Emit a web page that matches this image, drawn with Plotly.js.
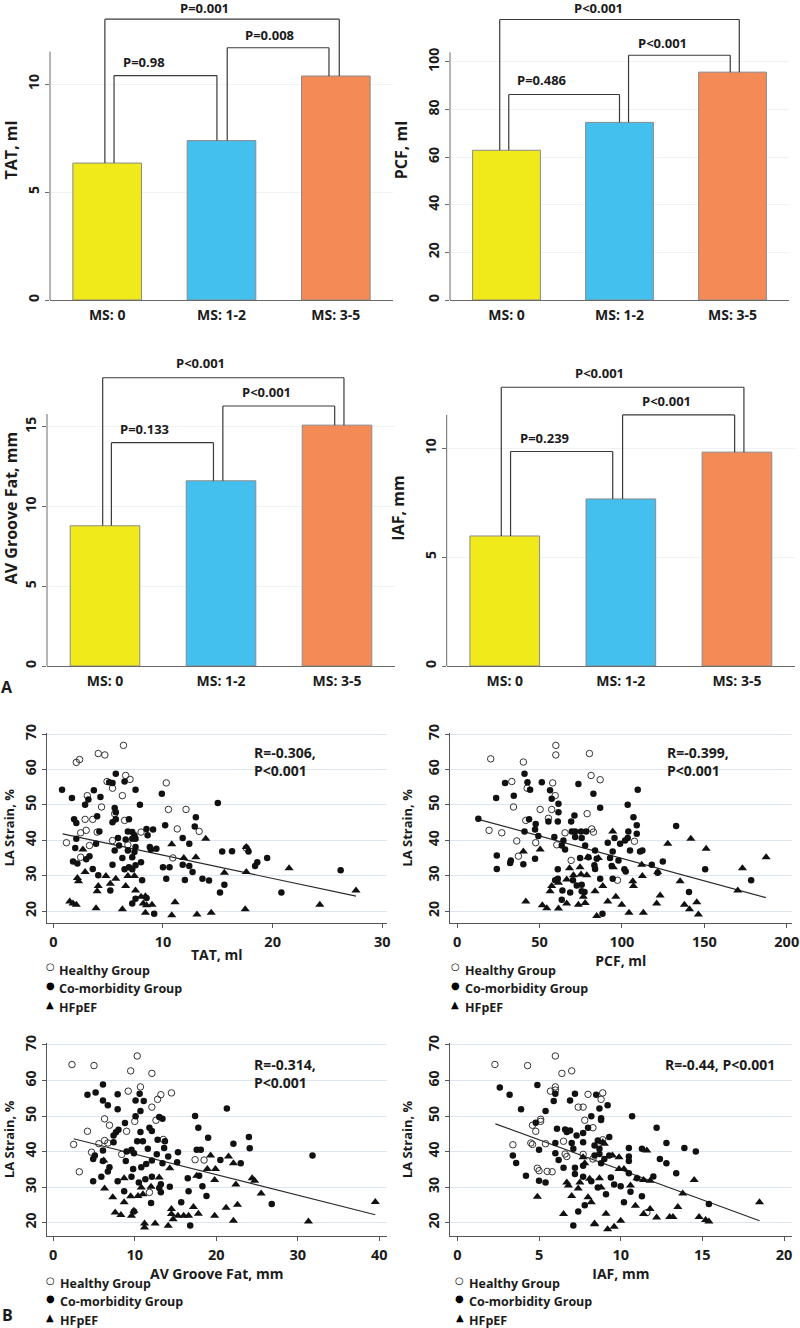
<!DOCTYPE html>
<html>
<head>
<meta charset="utf-8">
<script src="https://cdn.plot.ly/plotly-3.0.1.min.js"></script>
<style>html,body{margin:0;padding:0;background:#fff}#chart{width:800px;height:1328px}</style>
</head>
<body>
<div id="chart"></div>
<script>
// ---------------- DATA ----------------
const msCategories = ['MS: 0', 'MS: 1-2', 'MS: 3-5'];
const barColors = ['#F1EA1B', '#43C0EE', '#F48A56'];

const tatMeans = [6.34, 7.38, 10.37];
const pcfMeans = [62.9, 74.6, 95.7];
const avgMeans = [8.79, 11.61, 15.1];
const iafMeans = [5.97, 7.67, 9.82];

const comparePairs = [[0, 1], [1, 2], [0, 2]];
const tatPvals = ['P=0.98', 'P=0.008', 'P=0.001'];
const pcfPvals = ['P=0.486', 'P<0.001', 'P<0.001'];
const avgPvals = ['P=0.133', 'P<0.001', 'P<0.001'];
const iafPvals = ['P=0.239', 'P<0.001', 'P<0.001'];

const groupNames = ['Healthy Group', 'Co-morbidity Group', 'HFpEF'];

// TAT vs LA strain
const tatHealthyX = [6.4,2.1,2.4,4.1,4.7,6.6,7.0,4.9,5.4,6.3,10.3,3.1,4.4,10.5,12.1,2.9,3.6,5.6,6.5,11.3,13.3,2.5,3.0,4.0,1.2,3.3,5.4,8.0,6.8,2.5,10.9,17.6];
const tatHealthyY = [66.8,62.0,62.8,64.5,64.1,58.3,57.2,56.6,54.7,52.6,56.2,52.6,49.4,48.7,48.7,45.9,45.9,47.5,45.6,43.2,42.5,42.1,42.8,42.3,39.3,38.5,39.9,42.3,38.7,35.2,35.0,37.8];
const tatComorbX = [0.8,1.7,5.7,5.1,5.4,6.5,7.5,3.7,3.2,4.3,9.9,7.9,2.9,15.0,1.9,2.1,4.0,5.6,5.7,5.7,6.9,5.4,13.0,10.2,12.9,4.2,5.9,6.8,7.2,7.4,8.5,9.1,8.6,7.2,7.5,6.6,11.8,2.1,3.9,6.0,7.5,8.8,12.4,5.6,6.8,7.4,8.9,9.4,15.4,16.3,17.8,2.0,3.3,6.3,7.2,1.8,2.2,3.0,8.0,5.4,6.9,7.5,10.0,10.6,11.8,12.4,12.7,3.6,6.5,7.2,10.3,12.0,8.1,13.6,14.2,4.1,5.2,15.6,15.2,18.4,18.6,19.5,26.2,20.8,9.2,7.5,7.2,8.5];
const tatComorbY = [54.3,51.9,58.8,56.4,56.2,56.6,54.3,54.1,51.5,52.2,53.1,50.0,50.0,50.5,45.9,44.9,46.8,49.1,47.9,45.9,45.9,45.1,46.5,44.2,43.9,42.5,40.6,42.5,42.3,41.4,43.2,43.0,41.4,40.4,40.4,40.2,40.6,40.4,39.0,38.5,38.1,38.1,39.0,37.1,37.1,36.7,37.4,37.6,36.8,36.9,36.8,37.8,35.5,35.0,35.2,34.0,33.4,34.6,33.8,33.1,32.4,32.9,32.4,32.4,33.1,32.7,31.0,31.9,31.8,31.8,29.1,28.8,28.7,29.1,28.6,30.1,25.8,27.4,25.2,32.7,33.8,35.0,31.5,25.2,19.2,23.5,22.1,23.7];
const tatHfpefX = [2.7,2.9,2.2,2.3,4.1,4.0,4.8,5.2,5.7,6.6,6.8,7.4,7.5,8.0,8.4,8.2,8.5,9.0,8.4,1.5,1.8,2.1,3.9,6.3,10.8,11.1,13.1,14.4,17.5,10.8,11.9,13.0,13.9,15.6,17.6,17.6,21.5,24.3,27.6];
const tatHfpefY = [37.4,31.0,29.3,28.4,27.1,25.6,29.9,27.7,29.1,27.1,29.9,29.9,25.8,24.0,24.2,22.1,21.6,21.8,19.5,22.7,22.1,21.8,20.8,20.5,18.8,22.5,19.0,19.5,20.5,38.9,35.0,35.2,40.4,30.8,31.0,38.1,32.1,21.8,25.8];
const tatFitX = [0.85, 27.6];
const tatFitY = [41.8, 24.2];

// PCF vs LA strain
const pcfHealthyX = [59.9,59.9,80.3,20.4,40.2,81.3,86.8,33.2,42.5,58.0,59.5,34.2,50.4,57.4,78.9,41.7,55.4,19.4,27.1,36.2,47.7,60.5,65.5,81.7,82.7,37.2,69.2,97.3,107.6];
const pcfHealthyY = [66.8,64.1,64.5,63.0,62.1,58.3,57.1,56.6,54.7,56.2,52.6,49.4,48.7,48.7,47.5,45.6,46.2,42.8,42.1,39.8,39.3,38.7,42.1,43.2,42.3,35.5,34.3,28.7,39.7];
const pcfComorbX = [12.9,23.7,29.1,34.4,40.9,42.7,44.3,51.4,56.4,57.4,61.5,61.5,73.6,82.7,86.8,109.6,103.5,107.0,109.0,109.0,103.9,103.5,132.9,43.7,47.7,47.3,55.4,61.1,71.2,69.2,40.9,49.3,59.0,64.5,69.6,71.6,75.2,78.3,71.6,75.6,63.5,65.5,77.7,83.7,91.4,95.5,94.4,98.9,101.9,104.9,111.0,112.4,24.1,24.1,32.6,32.2,40.2,47.3,74.6,79.7,84.7,92.8,93.8,97.9,101.5,102.3,118.1,121.7,124.8,150.5,178.4,140.7,83.3,83.7,61.1,61.1,59.5,63.9,70.3,68.6,63.5,75.6,75.6,86.8,94.4,88.2,77.3,72.6];
const pcfComorbY = [46.1,51.9,56.2,52.6,58.8,56.4,54.3,56.4,54.1,51.7,50.3,47.9,55.9,53.1,49.2,54.3,50.0,46.5,44.2,41.8,42.5,40.6,44.0,45.9,44.6,43.0,45.3,45.3,47.0,45.3,42.5,41.2,40.9,39.9,42.5,42.5,42.5,42.5,40.9,40.6,38.5,37.4,38.5,37.1,39.3,40.6,36.8,39.0,39.9,37.1,36.8,37.1,35.7,31.9,34.3,33.6,33.2,34.8,35.0,35.2,34.8,35.0,32.7,34.3,31.8,31.2,33.1,30.8,34.0,31.8,28.7,25.4,32.9,31.9,31.8,29.1,28.7,25.8,28.7,25.2,23.2,27.4,25.6,29.1,29.1,19.2,25.4,27.2];
const pcfHfpefX = [40.2,50.4,94.4,112.0,127.8,141.8,151.1,187.5,173.1,170.3,135.3,121.7,112.4,107.0,106.6,88.4,79.3,85.7,94.8,68.2,74.6,75.2,78.7,70.6,66.5,61.5,57.4,56.4,41.7,51.7,54.4,61.5,66.5,73.6,77.7,76.6,83.7,91.4,96.3,99.9,104.3,113.0,121.1,123.2,137.9,141.0,145.4,146.4,84.7];
const pcfHfpefY = [36.8,37.4,42.5,33.1,39.0,40.4,37.6,35.2,32.1,25.8,28.4,31.0,29.9,27.1,28.4,27.1,35.2,35.0,32.4,32.1,32.4,30.3,30.1,30.1,28.9,28.0,27.1,25.6,22.7,21.6,20.8,20.7,22.1,21.8,22.3,24.0,25.6,22.7,24.0,21.8,19.5,19.5,22.1,24.4,21.8,20.5,22.5,19.0,18.6];
const pcfFitX = [12.9, 187.3];
const pcfFitY = [45.9, 23.8];

// AV groove fat vs LA strain
const avgHealthyX = [10.3,2.3,5.0,9.5,12.1,10.7,9.2,14.5,13.2,12.8,12.1,6.3,10.0,6.9,9.0,4.2,12.6,5.6,6.3,6.7,2.5,4.7,8.4,13.5,3.2,17.4,18.5,11.8];
const avgHealthyY = [66.9,64.5,64.2,62.7,62.0,58.2,57.0,56.5,56.0,54.7,52.5,49.2,48.5,47.4,45.7,45.7,48.8,42.2,43.1,42.4,42.0,39.8,39.2,43.4,34.3,37.7,37.6,28.5];
const avgComorbX = [6.1,4.2,5.2,7.9,6.1,6.7,7.9,10.6,10.1,11.1,10.7,10.1,8.8,8.0,7.7,10.7,11.8,12.1,13.0,13.4,7.4,10.3,11.0,12.8,13.7,6.1,7.4,5.1,6.1,9.0,9.6,9.9,11.6,12.7,13.6,15.3,17.4,17.8,19.0,21.3,22.1,24.0,24.1,17.6,18.1,20.5,23.0,31.8,26.8,8.9,9.8,10.8,11.4,12.1,13.4,14.1,15.2,6.9,6.7,5.9,4.9,7.9,9.6,10.5,11.3,12.1,13.2,14.3,16.5,17.9,18.3,18.8,16.6,12.0,15.7,8.7,9.9,13.2,13.0,16.8,4.9];
const avgComorbY = [58.9,56.0,56.6,56.1,54.4,53.0,51.9,56.3,54.4,54.2,51.4,49.9,48.0,46.1,45.4,45.5,46.7,45.8,49.7,49.2,44.5,42.9,42.9,43.3,42.9,40.3,42.6,38.9,37.3,40.0,40.5,39.5,40.8,39.2,41.0,39.8,50.0,46.7,43.9,52.1,42.2,44.1,40.9,40.5,40.5,37.6,36.7,38.9,25.2,37.3,35.1,35.6,36.5,37.5,36.7,38.6,37.0,35.6,34.4,32.9,31.6,31.6,32.9,31.3,32.2,32.9,30.8,30.1,32.5,33.2,30.2,27.5,28.8,25.5,25.7,28.8,23.1,28.5,29.7,19.2,37.9];
const avgHfpefX = [6.2,6.3,7.3,7.6,8.3,8.7,8.7,9.6,9.9,9.5,10.4,10.8,11.0,11.2,11.2,12.5,12.0,13.0,14.3,14.1,14.5,14.5,14.7,15.3,16.0,16.6,17.2,17.8,19.3,18.9,19.9,19.8,19.8,21.2,21.5,22.1,22.4,22.6,22.1,24.4,24.7,25.5,31.3,39.5,17.6];
const avgHfpefY = [37.5,29.6,27.1,22.8,22.1,25.7,32.5,21.9,23.3,27.4,27.5,29.9,28.0,19.7,18.6,19.7,30.1,32.7,35.3,19.1,23.8,22.4,20.9,21.9,21.9,21.9,24.4,22.5,38.9,35.1,35.1,32.0,21.9,24.2,38.6,36.7,30.7,25.0,20.5,32.5,31.8,28.2,20.3,25.8,33.2];
const avgFitX = [2.5, 39.5];
const avgFitY = [43.6, 22.2];

// IAF vs LA strain
const iafHealthyX = [6.0,2.3,4.3,6.4,7.0,6.0,6.0,5.7,8.0,8.9,8.8,7.4,7.7,7.8,5.1,5.1,4.6,4.8,5.4,4.6,4.5,3.4,6.5,6.6,6.7,7.7,4.9,5.0,5.5,5.8,8.3,8.9,8.3,11.6];
const iafHealthyY = [66.9,64.5,64.2,62.0,62.7,58.2,57.3,57.0,56.1,56.5,54.7,52.5,52.5,48.8,49.1,48.5,47.4,45.7,42.2,42.0,42.4,41.9,42.9,39.3,38.6,39.2,35.3,34.6,34.4,34.3,46.7,43.3,37.9,22.8];
const iafComorbX = [2.6,3.2,3.9,4.9,5.4,4.8,6.0,5.9,7.2,6.9,8.5,8.7,9.2,8.2,8.8,8.8,10.7,12.2,6.1,6.6,6.7,6.9,7.3,7.7,8.0,9.3,6.0,8.6,7.0,7.1,7.7,8.4,8.7,5.0,3.4,3.6,4.2,5.0,5.4,6.0,6.2,6.5,7.2,7.7,8.4,8.7,9.0,8.8,9.3,10.5,10.5,10.5,11.3,12.8,13.9,14.6,12.4,12.8,10.5,11.0,12.0,13.4,7.2,7.7,8.2,8.6,9.4,9.6,10.0,10.6,11.3,7.8,7.4,9.1,10.2,15.4,7.1];
const iafComorbY = [58.0,56.0,51.9,58.7,51.4,48.1,56.3,54.2,56.3,54.4,56.0,52.1,53.0,49.9,49.4,48.9,49.9,46.7,46.4,46.2,45.5,45.9,44.5,45.2,46.7,44.1,42.4,43.1,42.4,40.8,42.6,41.7,40.8,40.5,38.9,36.8,33.2,31.8,31.3,39.5,37.6,35.4,35.4,36.0,38.9,39.3,37.9,36.7,38.9,41.0,38.6,37.3,40.8,42.4,41.0,40.0,37.9,36.7,33.9,32.5,33.0,33.9,33.7,32.9,31.6,29.9,32.7,30.7,30.2,28.7,27.4,24.9,23.1,28.0,25.7,25.2,19.2];
const iafHfpefX = [4.9,6.5,6.8,7.0,6.7,7.4,7.5,7.7,7.8,8.0,8.1,8.2,8.4,8.4,8.7,8.8,8.9,9.0,9.1,9.2,9.6,9.5,9.9,10.0,9.9,10.2,10.6,10.9,11.0,11.4,11.4,11.6,11.8,11.8,12.2,13.0,13.2,13.5,13.8,14.5,14.8,15.2,15.4,18.5];
const iafHfpefY = [27.3,22.4,30.4,27.5,31.3,29.6,31.3,38.4,36.7,27.1,32.3,25.7,19.7,19.5,32.5,29.9,42.6,42.2,22.5,18.1,18.8,38.9,35.1,20.5,38.4,35.1,30.4,24.7,32.5,32.0,22.4,40.3,23.8,31.8,21.4,21.6,21.6,24.4,28.2,32.0,21.6,20.7,20.3,25.7];
const iafFitX = [2.33, 18.5];
const iafFitY = [47.8, 20.5];

// ---------------- LAYOUT HELPERS ----------------
const W = 800, H = 1328;
const FONT = 'Open Sans, Arial, sans-serif';
const INK = '#1b1b1b';
function xd(a, b) { return [a / W, b / W]; }
function yd(top, bot) { return [1 - bot / H, 1 - top / H]; }
function bf(size) { return {family: FONT, size: size, color: INK, weight: 'bold'}; }
function esc(s) { return s.replace(/</g, '&lt;'); }

const data = [];
const layout = {
  width: W, height: H,
  margin: {l: 0, r: 0, t: 0, b: 0},
  paper_bgcolor: '#fff', plot_bgcolor: '#fff',
  showlegend: false,
  font: bf(13),
  shapes: [], annotations: []
};

// ---------------- BAR PANELS ----------------
const barPanels = [
  {means: tatMeans, pv: tatPvals, title: 'TAT, ml', n: '', x: [50, 393], y: [0, 300], yr: 13.89, ticks: [0, 5, 10], axTop: 11.5,
   br: [[0.06, 0.96, 10.39, 0.32, 11.03], [1.05, 1.94, 11.68, 1.42, 12.27], [-0.02, 2.03, 13.0, 0.85, 13.5]]},
  {means: pcfMeans, pv: pcfPvals, title: 'PCF, ml', n: '2', x: [450, 789], y: [0, 300], yr: 126, ticks: [0, 20, 40, 60, 80, 100], axTop: 104,
   br: [[0.02, 1.0, 86.3, 0.31, 92.3], [1.08, 1.98, 102.8, 1.38, 108.0], [-0.06, 2.06, 117.8, 0.81, 122.6]]},
  {means: avgMeans, pv: avgPvals, title: 'AV Groove Fat, mm', n: '3', x: [47, 395], y: [350, 666], yr: 19.81, ticks: [0, 5, 10, 15], axTop: 15.8,
   br: [[0.055, 0.935, 14.0, 0.34, 14.85], [1.016, 1.98, 16.3, 1.39, 17.2], [-0.02, 2.06, 18.07, 0.82, 18.97]]},
  {means: iafMeans, pv: iafPvals, title: 'IAF, mm', n: '4', x: [446.7, 795], y: [350, 666], yr: 14.51, ticks: [0, 5, 10], axTop: 11.53,
   br: [[0.05, 0.93, 9.85, 0.34, 10.46], [1.015, 1.98, 11.53, 1.39, 12.17], [-0.03, 2.06, 12.8, 0.82, 13.45]]}
];

barPanels.forEach(function (p) {
  const xa = 'x' + p.n, ya = 'y' + p.n;
  data.push({
    type: 'bar', x: [0, 1, 2], y: p.means, xaxis: xa, yaxis: ya, width: 0.6,
    marker: {color: barColors, line: {color: '#8a8a8a', width: 1}},
    hoverinfo: 'y'
  });
  layout['xaxis' + p.n] = {
    domain: xd(p.x[0], p.x[1]), anchor: ya, range: [-0.5, 2.5],
    tickvals: [0, 1, 2], ticktext: msCategories, tickfont: bf(14),
    showline: true, linecolor: '#6a6a6a', linewidth: 1, ticks: '', showgrid: false, zeroline: false,
    ticklabelstandoff: 2
  };
  layout['yaxis' + p.n] = {
    domain: yd(p.y[0], p.y[1]), anchor: xa, range: [0, p.yr],
    tickvals: p.ticks, tickangle: -90, tickfont: bf(14),
    showline: false, ticks: 'outside', ticklen: 4, tickcolor: '#6a6a6a',
    showgrid: true, gridcolor: '#eef3f3', gridwidth: 1, zeroline: false,
    title: {text: p.title, font: bf(16), standoff: 12}
  };
  // y axis line stops below the comparison brackets
  layout.shapes.push({type: 'line', xref: 'paper', yref: ya, x0: p.x[0] / W, x1: p.x[0] / W, y0: 0, y1: p.axTop,
    line: {color: '#6a6a6a', width: 1}});
  // significance brackets
  p.br.forEach(function (b, i) {
    const pair = comparePairs[i];
    const lc = {color: '#3a3a3a', width: 1.2};
    layout.shapes.push({type: 'line', xref: xa, yref: ya, x0: b[0], x1: b[0], y0: p.means[pair[0]], y1: b[2], line: lc});
    layout.shapes.push({type: 'line', xref: xa, yref: ya, x0: b[0], x1: b[1], y0: b[2], y1: b[2], line: lc});
    layout.shapes.push({type: 'line', xref: xa, yref: ya, x0: b[1], x1: b[1], y0: b[2], y1: p.means[pair[1]], line: lc});
    layout.annotations.push({xref: xa, yref: ya, x: b[3], y: b[4], text: esc(p.pv[i]), showarrow: false,
      xanchor: 'center', yanchor: 'middle', font: bf(13)});
  });
});

// ---------------- SCATTER PANELS ----------------
const scatterPanels = [
  {n: '5', xt: 'TAT, ml', hx: tatHealthyX, hy: tatHealthyY, cx: tatComorbX, cy: tatComorbY, tx: tatHfpefX, ty: tatHfpefY,
   fx: tatFitX, fy: tatFitY, r: 'R=-0.306,<br>P&lt;0.001', x: [46.7, 386.7], y: [733, 922.7], xr: [-0.6, 30.4], yr: [16.7, 70.3],
   xt2: [0, 10, 20, 30], rpos: [252, 741], leg: [50, 57, 970]},
  {n: '6', xt: 'PCF, ml', hx: pcfHealthyX, hy: pcfHealthyY, cx: pcfComorbX, cy: pcfComorbY, tx: pcfHfpefX, ty: pcfHfpefY,
   fx: pcfFitX, fy: pcfFitY, r: 'R=-0.399,<br>P&lt;0.001', x: [450, 791.7], y: [733, 922.7], xr: [-4.3, 203], yr: [16.7, 70.3],
   xt2: [0, 50, 100, 150, 200], rpos: [665, 741], leg: [455, 463, 970]},
  {n: '7', xt: 'AV Groove Fat, mm', hx: avgHealthyX, hy: avgHealthyY, cx: avgComorbX, cy: avgComorbY, tx: avgHfpefX, ty: avgHfpefY,
   fx: avgFitX, fy: avgFitY, r: 'R=-0.314,<br>P&lt;0.001', x: [46.7, 386.7], y: [1043.2, 1235.7], xr: [-0.8, 40.9], yr: [16.3, 70.5],
   xt2: [0, 10, 20, 30, 40], rpos: [252, 1053], leg: [50, 58, 1283]},
  {n: '8', xt: 'IAF, mm', hx: iafHealthyX, hy: iafHealthyY, cx: iafComorbX, cy: iafComorbY, tx: iafHfpefX, ty: iafHfpefY,
   fx: iafFitX, fy: iafFitY, r: 'R=-0.44, P&lt;0.001', x: [450, 791.7], y: [1043.2, 1235.7], xr: [-0.45, 20.47], yr: [16.3, 70.5],
   xt2: [0, 5, 10, 15, 20], rpos: [663, 1053], leg: [460, 467, 1283]}
];

scatterPanels.forEach(function (p) {
  const xa = 'x' + p.n, ya = 'y' + p.n;
  data.push({type: 'scatter', mode: 'lines', x: p.fx, y: p.fy, xaxis: xa, yaxis: ya,
    line: {color: '#2a2a2a', width: 1.2}, hoverinfo: 'skip'});
  data.push({type: 'scatter', mode: 'markers', name: groupNames[0], x: p.hx, y: p.hy, xaxis: xa, yaxis: ya,
    marker: {symbol: 'circle-open', size: 6.5, color: '#333', line: {width: 1, color: '#333'}}});
  data.push({type: 'scatter', mode: 'markers', name: groupNames[1], x: p.cx, y: p.cy, xaxis: xa, yaxis: ya,
    marker: {symbol: 'circle', size: 6.5, color: '#111'}});
  data.push({type: 'scatter', mode: 'markers', name: groupNames[2], x: p.tx, y: p.ty, xaxis: xa, yaxis: ya,
    marker: {symbol: 'triangle-up', size: 8, color: '#111'}});
  layout['xaxis' + p.n] = {
    domain: xd(p.x[0], p.x[1]), anchor: ya, range: p.xr, tickvals: p.xt2, tickfont: bf(14.5),
    showline: true, linecolor: '#555', linewidth: 1, ticks: 'outside', ticklen: 4, tickcolor: '#555',
    showgrid: false, zeroline: false, ticklabelstandoff: 2,
    title: {text: p.xt, font: bf(14), standoff: 0}
  };
  layout['yaxis' + p.n] = {
    domain: yd(p.y[0], p.y[1]), anchor: xa, range: p.yr, tickvals: [20, 30, 40, 50, 60, 70], tickangle: -90,
    tickfont: bf(14), showline: true, linecolor: '#555', linewidth: 1, ticks: 'outside', ticklen: 4, tickcolor: '#555',
    showgrid: true, gridcolor: '#dde5ee', gridwidth: 1, zeroline: false,
    title: {text: 'LA Strain, %', font: bf(13), standoff: 8}
  };
  layout.annotations.push({xref: 'paper', yref: 'paper', x: p.rpos[0] / W, y: 1 - p.rpos[1] / H, text: p.r,
    showarrow: false, xanchor: 'left', yanchor: 'top', align: 'left', font: bf(14)});
  const syms = ['○', '●', '▲'];
  for (let i = 0; i < 3; i++) {
    const yy = p.leg[2] + i * 18.5;
    layout.annotations.push({xref: 'paper', yref: 'paper', x: p.leg[0] / W, y: 1 - (yy - 3) / H, text: syms[i],
      showarrow: false, xanchor: 'center', yanchor: 'middle', font: {family: 'DejaVu Sans', size: 10, color: '#000'}});
    layout.annotations.push({xref: 'paper', yref: 'paper', x: p.leg[1] / W, y: 1 - yy / H, text: groupNames[i],
      showarrow: false, xanchor: 'left', yanchor: 'middle', font: bf(12.5)});
  }
});

// panel letters
layout.annotations.push({xref: 'paper', yref: 'paper', x: 7 / W, y: 1 - 687 / H, text: 'A', showarrow: false,
  xanchor: 'center', yanchor: 'middle', font: {family: FONT, size: 16, color: INK}});
layout.annotations.push({xref: 'paper', yref: 'paper', x: 7 / W, y: 1 - 1315 / H, text: 'B', showarrow: false,
  xanchor: 'center', yanchor: 'middle', font: {family: FONT, size: 16, color: INK}});

Plotly.newPlot('chart', data, layout, {displayModeBar: false, staticPlot: true});
</script>
</body>
</html>
